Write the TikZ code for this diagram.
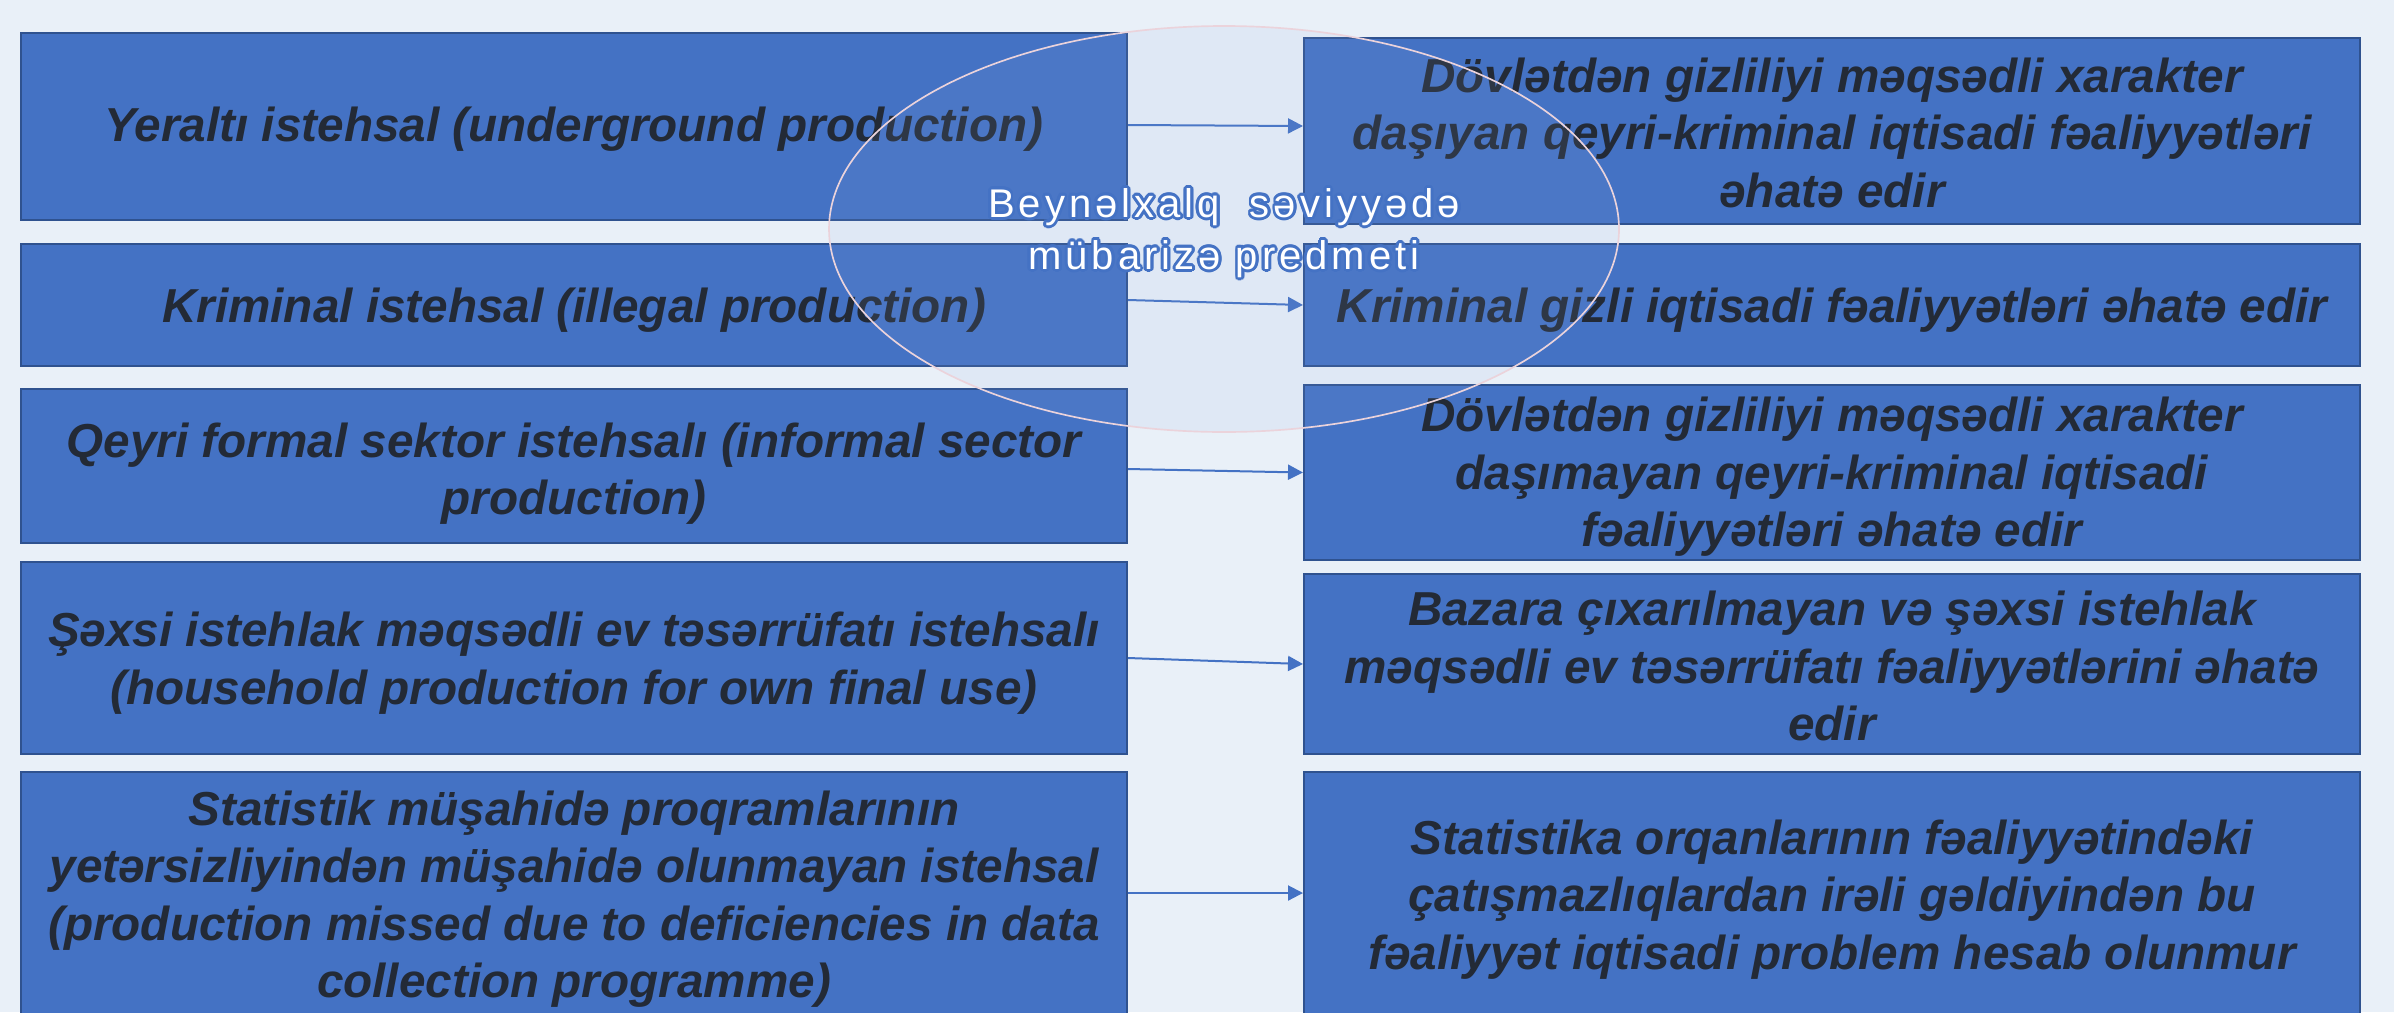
\documentclass[tikz,border=0pt]{standalone}
\usepackage{fontspec}
\setmainfont{Liberation Sans}
\newfontfamily\ellfont[LetterSpace=10]{Liberation Sans}
\usepackage{contour}
\contourlength{0.85pt}
\usetikzlibrary{arrows.meta,shapes.geometric}
\definecolor{bg}{HTML}{E9F0F8}
\definecolor{boxfill}{HTML}{4472C4}
\definecolor{boxline}{HTML}{2F528F}
\definecolor{txt}{HTML}{232A36}
\definecolor{ellline}{HTML}{EBD3DB}
\definecolor{ellfill}{HTML}{8FAADC}
\begin{document}
\begin{tikzpicture}[x=0.3pt,y=-0.3pt,
  box/.style={draw=boxline, line width=0.6pt, fill=boxfill, inner sep=0pt},
  lbox/.style={box, minimum width={1106*0.3pt}},
  rbox/.style={box, minimum width={1056*0.3pt}},
  btext/.style={text=txt, align=center, inner sep=0pt,
    font=\fontsize{14.3}{17.25}\selectfont\bfseries\itshape},
  conn/.style={draw=boxfill, line width=0.6pt, -{Triangle[length=4.5pt,width=4.5pt]}}]
\fill[bg] (0,0) rectangle (2394,1012);
\useasboundingbox (0,0) rectangle (2394,1012);
% left boxes
\node[lbox, minimum height={187*0.3pt}] (L1) at (574,126.5) {};
\node[lbox, minimum height={122*0.3pt}] (L2) at (574,305) {};
\node[lbox, minimum height={154*0.3pt}] (L3) at (574,466) {};
\node[lbox, minimum height={192*0.3pt}] (L4) at (574,658) {};
\node[lbox, minimum height={246*0.3pt}] (L5) at (574,895) {};
% right boxes
\node[rbox, minimum height={186*0.3pt}] (R1) at (1832,131) {};
\node[rbox, minimum height={122*0.3pt}] (R2) at (1832,305) {};
\node[rbox, minimum height={175*0.3pt}] (R3) at (1832,472.5) {};
\node[rbox, minimum height={180*0.3pt}] (R4) at (1832,664) {};
\node[rbox, minimum height={246*0.3pt}] (R5) at (1832,895) {};
% box texts
\node[btext] (L1t) at ([yshift=-0.9pt]L1.center) {Yeraltı istehsal (underground production)};
\node[btext] (L2t) at ([yshift=-1.6pt]L2.center) {Kriminal istehsal (illegal production)};
\node[btext] (L3t) at ([yshift=-2.3pt]L3.center) {Qeyri formal sektor istehsalı (informal sector\\production)};
\node[btext] (L4t) at ([yshift=-1.5pt]L4.center) {Şəxsi istehlak məqsədli ev təsərrüfatı istehsalı\\(household production for own final use)};
\node[btext] (L5t) at ([yshift=-1.3pt]L5.center) {Statistik müşahidə proqramlarının\\yetərsizliyindən müşahidə olunmayan istehsal\\(production missed due to deficiencies in data\\collection programme)};
\node[btext] (R1t) at ([yshift=-0.5pt]R1.center) {Dövlətdən gizliliyi məqsədli xarakter\\daşıyan qeyri-kriminal iqtisadi fəaliyyətləri\\əhatə edir};
\node[btext] (R2t) at ([yshift=-1.6pt]R2.center) {Kriminal gizli iqtisadi fəaliyyətləri əhatə edir};
\node[btext] (R3t) at ([yshift=-1.3pt]R3.center) {Dövlətdən gizliliyi məqsədli xarakter\\daşımayan qeyri-kriminal iqtisadi\\fəaliyyətləri əhatə edir};
\node[btext] (R4t) at ([yshift=-0.7pt]R4.center) {Bazara çıxarılmayan və şəxsi istehlak\\məqsədli ev təsərrüfatı fəaliyyətlərini əhatə\\edir};
\node[btext] (R5t) at ([yshift=-1.3pt]R5.center) {Statistika orqanlarının fəaliyyətindəki\\çatışmazlıqlardan irəli gəldiyindən bu\\fəaliyyət iqtisadi problem hesab olunmur};
% connectors
\draw[conn] ([yshift=0.45pt]L1.east) -- ([yshift=1.5pt]R1.west);
\draw[conn] ([yshift=1.5pt]L2.east) -- (R2.west);
\draw[conn] ([yshift=-0.9pt]L3.east) -- (R3.west);
\draw[conn] (L4.east) -- (R4.west);
\draw[conn] ([yshift=0.6pt]L5.east) -- ([yshift=0.6pt]R5.west);
% ellipse
\node[ellipse, draw=ellline, line width=0.5pt, fill=ellfill, fill opacity=0.1,
  minimum width={790*0.3pt}, minimum height={406*0.3pt}, inner sep=0pt] (E) at (1224,229) {};
\node[text=white, align=center, inner sep=0pt, font=\fontsize{12}{15.6}\ellfont]
  (Et) at ([yshift=-1.6pt]E.center)
  {\contour{boxfill}{Beynəlxalq\ \ səviyyədə}\\\contour{boxfill}{mübarizə predmeti}};
\end{tikzpicture}
\end{document}
